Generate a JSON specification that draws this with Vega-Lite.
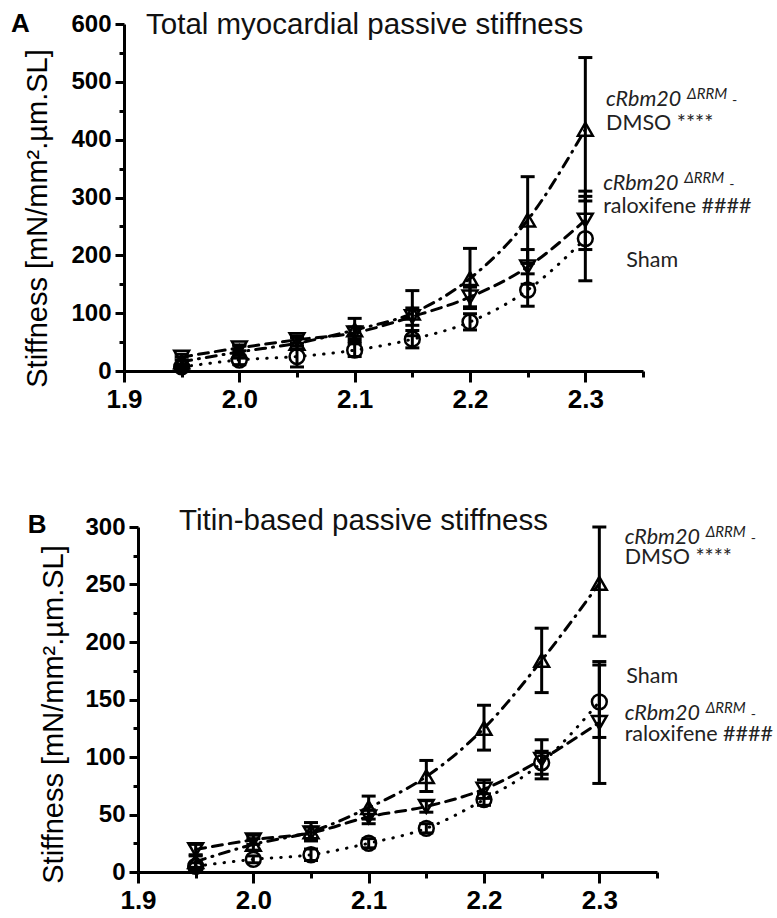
{
  "$schema": "https://vega.github.io/schema/vega-lite/v6.json",
  "background": "white",
  "padding": {"left": 10, "top": 9, "right": 5, "bottom": 5},
  "spacing": 93,
  "config": {
    "view": {"stroke": null},
    "font": "Liberation Sans",
    "axis": {
      "grid": false,
      "domainColor": "black",
      "domainWidth": 3,
      "tickColor": "black",
      "tickWidth": 3,
      "labelColor": "black",
      "labelFont": "Liberation Sans",
      "labelFontWeight": "bold",
      "labelOverlap": false,
      "labelFlush": false,
      "titleColor": "black",
      "titleFont": "Liberation Sans",
      "titleFontWeight": "normal"
    }
  },
  "datasets": {
    "A": [
      {"x": 1.95, "group": "DMSO", "mean": 16, "lo": 8, "hi": 24},
      {"x": 1.95, "group": "Ralox", "mean": 24, "lo": 19, "hi": 29},
      {"x": 1.95, "group": "Sham", "mean": 7, "lo": 2, "hi": 12},
      {"x": 2.0, "group": "DMSO", "mean": 33, "lo": 23, "hi": 43},
      {"x": 2.0, "group": "Ralox", "mean": 40, "lo": 35, "hi": 45},
      {"x": 2.0, "group": "Sham", "mean": 19, "lo": 11, "hi": 27},
      {"x": 2.05, "group": "DMSO", "mean": 48, "lo": 38, "hi": 58},
      {"x": 2.05, "group": "Ralox", "mean": 54, "lo": 48, "hi": 61},
      {"x": 2.05, "group": "Sham", "mean": 25, "lo": 7, "hi": 43},
      {"x": 2.1, "group": "DMSO", "mean": 71, "lo": 51, "hi": 91},
      {"x": 2.1, "group": "Ralox", "mean": 66, "lo": 56, "hi": 76},
      {"x": 2.1, "group": "Sham", "mean": 36, "lo": 25, "hi": 47},
      {"x": 2.15, "group": "DMSO", "mean": 100, "lo": 61, "hi": 139},
      {"x": 2.15, "group": "Ralox", "mean": 94, "lo": 79, "hi": 109},
      {"x": 2.15, "group": "Sham", "mean": 55, "lo": 40, "hi": 70},
      {"x": 2.2, "group": "DMSO", "mean": 160, "lo": 108, "hi": 212},
      {"x": 2.2, "group": "Ralox", "mean": 128, "lo": 111, "hi": 145},
      {"x": 2.2, "group": "Sham", "mean": 85, "lo": 71, "hi": 99},
      {"x": 2.25, "group": "DMSO", "mean": 261, "lo": 186, "hi": 336},
      {"x": 2.25, "group": "Ralox", "mean": 180, "lo": 150, "hi": 210},
      {"x": 2.25, "group": "Sham", "mean": 140, "lo": 112, "hi": 168},
      {"x": 2.3, "group": "DMSO", "mean": 418, "lo": 294, "hi": 542},
      {"x": 2.3, "group": "Ralox", "mean": 261, "lo": 210, "hi": 311},
      {"x": 2.3, "group": "Sham", "mean": 229, "lo": 156, "hi": 302}
    ],
    "B": [
      {"x": 1.95, "group": "DMSO", "mean": 9, "lo": 4, "hi": 14},
      {"x": 1.95, "group": "Ralox", "mean": 19.5, "lo": 15, "hi": 24},
      {"x": 1.95, "group": "Sham", "mean": 5, "lo": 2, "hi": 8},
      {"x": 2.0, "group": "DMSO", "mean": 24, "lo": 19, "hi": 29},
      {"x": 2.0, "group": "Ralox", "mean": 28, "lo": 24, "hi": 32},
      {"x": 2.0, "group": "Sham", "mean": 11, "lo": 8, "hi": 14},
      {"x": 2.05, "group": "DMSO", "mean": 35, "lo": 27, "hi": 43},
      {"x": 2.05, "group": "Ralox", "mean": 34, "lo": 29, "hi": 39},
      {"x": 2.05, "group": "Sham", "mean": 15, "lo": 10, "hi": 20},
      {"x": 2.1, "group": "DMSO", "mean": 56, "lo": 46, "hi": 66},
      {"x": 2.1, "group": "Ralox", "mean": 48, "lo": 42, "hi": 54},
      {"x": 2.1, "group": "Sham", "mean": 25, "lo": 21, "hi": 29},
      {"x": 2.15, "group": "DMSO", "mean": 83, "lo": 70, "hi": 97},
      {"x": 2.15, "group": "Ralox", "mean": 57, "lo": 52, "hi": 62},
      {"x": 2.15, "group": "Sham", "mean": 38, "lo": 34, "hi": 42},
      {"x": 2.2, "group": "DMSO", "mean": 125, "lo": 106, "hi": 145},
      {"x": 2.2, "group": "Ralox", "mean": 72, "lo": 64, "hi": 80},
      {"x": 2.2, "group": "Sham", "mean": 63, "lo": 58, "hi": 68},
      {"x": 2.25, "group": "DMSO", "mean": 184, "lo": 156, "hi": 212},
      {"x": 2.25, "group": "Ralox", "mean": 98, "lo": 81, "hi": 115},
      {"x": 2.25, "group": "Sham", "mean": 95, "lo": 85, "hi": 105},
      {"x": 2.3, "group": "DMSO", "mean": 251, "lo": 205, "hi": 300},
      {"x": 2.3, "group": "Ralox", "mean": 130, "lo": 77, "hi": 183},
      {"x": 2.3, "group": "Sham", "mean": 148, "lo": 117, "hi": 180}
    ],
    "italA": [
      {"x": 2.318, "y": 457.7, "name": "cRbm20", "sup": "ΔRRM", "tail": "-"},
      {"x": 2.3155, "y": 312.6, "name": "cRbm20", "sup": "ΔRRM", "tail": "-"}
    ],
    "plainA": [
      {"x": 2.318, "y": 417.4, "text": "DMSO ****"},
      {"x": 2.3155, "y": 272.4, "text": "raloxifene ####"},
      {"x": 2.3355, "y": 180, "text": "Sham"}
    ],
    "italB": [
      {"x": 2.322, "y": 284.8, "name": "cRbm20", "sup": "ΔRRM", "tail": "-"},
      {"x": 2.322, "y": 132.6, "name": "cRbm20", "sup": "ΔRRM", "tail": "-"}
    ],
    "plainB": [
      {"x": 2.322, "y": 267.4, "text": "DMSO ****"},
      {"x": 2.3234, "y": 164.5, "text": "Sham"},
      {"x": 2.322, "y": 113.7, "text": "raloxifene ####"}
    ],
    "headA": [
      {"x": 1.802, "y": 586, "letter": "A"}
    ],
    "titleA": [
      {"x": 1.9191, "y": 583, "title": "Total myocardial passive stiffness"}
    ],
    "headB": [
      {"x": 1.8043, "y": 295, "letter": "B"}
    ],
    "titleB": [
      {"x": 1.9356, "y": 297.8, "title": "Titin-based passive stiffness"}
    ]
  },
  "vconcat": [
    {
      "width": 519,
      "height": 347,
      "encoding": {
        "x": {
          "field": "x", "type": "quantitative",
          "scale": {"domain": [1.9, 2.35], "nice": false, "zero": false},
          "axis": {
            "title": null,
            "values": [1.9, 1.95, 2.0, 2.05, 2.1, 2.15, 2.2, 2.25, 2.3, 2.35],
            "labelExpr": "abs(datum.value*10 - round(datum.value*10)) < 0.001 && datum.value < 2.34 ? format(datum.value, '.1f') : ''",
            "tickSize": {"condition": {"test": "abs(datum.value*10 - round(datum.value*10)) < 0.001 && datum.value < 2.34", "value": 11}, "value": 6},
            "labelFontSize": 26,
            "labelPadding": 4
          }
        },
        "y": {
          "type": "quantitative",
          "scale": {"domain": [0, 600], "nice": false},
          "axis": {
            "title": "Stiffness [mN/mm².µm.SL]",
            "titleFontSize": 29,
            "titleY": 194,
            "titlePadding": 18,
            "values": [0, 50, 100, 150, 200, 250, 300, 350, 400, 450, 500, 550, 600],
            "labelExpr": "datum.value % 100 == 0 ? datum.label : ''",
            "tickSize": {"condition": {"test": "datum.value % 100 == 0", "value": 9}, "value": 5},
            "labelFontSize": 24,
            "labelPadding": 4
          }
        }
      },
      "layer": [
        {
          "data": {"name": "A"},
          "mark": {"type": "line", "color": "black", "strokeWidth": 3, "strokeCap": "round", "interpolate": "monotone"},
          "encoding": {
            "y": {"field": "mean"},
            "detail": {"field": "group"},
            "strokeDash": {"field": "group", "scale": {"domain": ["DMSO", "Ralox", "Sham"], "range": [[10, 7, 1, 7], [10, 7], [0.5, 9]]}, "legend": null}
          }
        },
        {
          "data": {"name": "A"},
          "mark": {"type": "rule", "color": "black", "strokeWidth": 3},
          "encoding": {"y": {"field": "lo"}, "y2": {"field": "hi"}}
        },
        {
          "data": {"name": "A"},
          "mark": {"type": "tick", "orient": "horizontal", "color": "black", "opacity": 1, "size": 14, "thickness": 3},
          "encoding": {"y": {"field": "lo"}}
        },
        {
          "data": {"name": "A"},
          "mark": {"type": "tick", "orient": "horizontal", "color": "black", "opacity": 1, "size": 14, "thickness": 3},
          "encoding": {"y": {"field": "hi"}}
        },
        {
          "data": {"name": "A"},
          "mark": {"type": "point", "filled": false, "color": "black", "strokeWidth": 2.5, "size": 220, "opacity": 1},
          "encoding": {
            "y": {"field": "mean"},
            "shape": {"field": "group", "scale": {"domain": ["DMSO", "Ralox", "Sham"], "range": ["triangle-up", "triangle-down", "circle"]}, "legend": null}
          }
        },
        {
          "data": {"name": "italA"},
          "mark": {"type": "text", "align": "left", "baseline": "alphabetic", "font": "Lato", "fontSize": 21.5, "fontStyle": "italic", "color": "#222"},
          "encoding": {"y": {"field": "y"}, "text": {"field": "name"}}
        },
        {
          "data": {"name": "italA"},
          "mark": {"type": "text", "align": "left", "baseline": "alphabetic", "font": "Lato", "fontSize": 15, "fontStyle": "italic", "color": "#222", "dx": 81, "dy": -7},
          "encoding": {"y": {"field": "y"}, "text": {"field": "sup"}}
        },
        {
          "data": {"name": "italA"},
          "mark": {"type": "text", "align": "left", "baseline": "alphabetic", "font": "Lato", "fontSize": 14, "color": "#222", "dx": 126, "dy": -1},
          "encoding": {"y": {"field": "y"}, "text": {"field": "tail"}}
        },
        {
          "data": {"name": "plainA"},
          "mark": {"type": "text", "align": "left", "baseline": "alphabetic", "font": "Lato", "fontSize": 21.5, "color": "#222"},
          "encoding": {"y": {"field": "y"}, "text": {"field": "text"}}
        },
        {
          "data": {"name": "headA"},
          "mark": {"type": "text", "align": "left", "baseline": "alphabetic", "fontSize": 26, "fontWeight": "bold", "color": "black"},
          "encoding": {"y": {"field": "y"}, "text": {"field": "letter"}}
        },
        {
          "data": {"name": "titleA"},
          "mark": {"type": "text", "align": "left", "baseline": "alphabetic", "fontSize": 29.5, "color": "#111"},
          "encoding": {"y": {"field": "y"}, "text": {"field": "title"}}
        }
      ]
    },
    {
      "width": 533,
      "height": 345,
      "encoding": {
        "x": {
          "field": "x", "type": "quantitative",
          "scale": {"domain": [1.887853, 2.35], "nice": false, "zero": false},
          "axis": {
            "title": null,
            "values": [1.9, 1.95, 2.0, 2.05, 2.1, 2.15, 2.2, 2.25, 2.3, 2.35],
            "labelExpr": "abs(datum.value*10 - round(datum.value*10)) < 0.001 && datum.value < 2.34 ? format(datum.value, '.1f') : ''",
            "tickSize": {"condition": {"test": "abs(datum.value*10 - round(datum.value*10)) < 0.001 && datum.value < 2.34", "value": 11}, "value": 6},
            "domainDash": [0, 14, 1000],
            "labelFontSize": 26,
            "labelPadding": 4
          }
        },
        "y": {
          "type": "quantitative",
          "scale": {"domain": [0, 300], "nice": false},
          "axis": {
            "title": "Stiffness [mN/mm².µm.SL]",
            "titleFontSize": 29,
            "titleY": 187,
            "titlePadding": 16,
            "offset": -14,
            "values": [0, 25, 50, 75, 100, 125, 150, 175, 200, 225, 250, 275, 300],
            "labelExpr": "datum.value % 50 == 0 ? datum.label : ''",
            "tickSize": {"condition": {"test": "datum.value % 50 == 0", "value": 9}, "value": 5},
            "labelFontSize": 24,
            "labelPadding": 4
          }
        }
      },
      "layer": [
        {
          "data": {"name": "B"},
          "mark": {"type": "line", "color": "black", "strokeWidth": 3, "strokeCap": "round", "interpolate": "monotone"},
          "encoding": {
            "y": {"field": "mean"},
            "detail": {"field": "group"},
            "strokeDash": {"field": "group", "scale": {"domain": ["DMSO", "Ralox", "Sham"], "range": [[10, 7, 1, 7], [10, 7], [0.5, 9]]}, "legend": null}
          }
        },
        {
          "data": {"name": "B"},
          "mark": {"type": "rule", "color": "black", "strokeWidth": 3},
          "encoding": {"y": {"field": "lo"}, "y2": {"field": "hi"}}
        },
        {
          "data": {"name": "B"},
          "mark": {"type": "tick", "orient": "horizontal", "color": "black", "opacity": 1, "size": 14, "thickness": 3},
          "encoding": {"y": {"field": "lo"}}
        },
        {
          "data": {"name": "B"},
          "mark": {"type": "tick", "orient": "horizontal", "color": "black", "opacity": 1, "size": 14, "thickness": 3},
          "encoding": {"y": {"field": "hi"}}
        },
        {
          "data": {"name": "B"},
          "mark": {"type": "point", "filled": false, "color": "black", "strokeWidth": 2.5, "size": 220, "opacity": 1},
          "encoding": {
            "y": {"field": "mean"},
            "shape": {"field": "group", "scale": {"domain": ["DMSO", "Ralox", "Sham"], "range": ["triangle-up", "triangle-down", "circle"]}, "legend": null}
          }
        },
        {
          "data": {"name": "italB"},
          "mark": {"type": "text", "align": "left", "baseline": "alphabetic", "font": "Lato", "fontSize": 21.5, "fontStyle": "italic", "color": "#222"},
          "encoding": {"y": {"field": "y"}, "text": {"field": "name"}}
        },
        {
          "data": {"name": "italB"},
          "mark": {"type": "text", "align": "left", "baseline": "alphabetic", "font": "Lato", "fontSize": 15, "fontStyle": "italic", "color": "#222", "dx": 81, "dy": -7},
          "encoding": {"y": {"field": "y"}, "text": {"field": "sup"}}
        },
        {
          "data": {"name": "italB"},
          "mark": {"type": "text", "align": "left", "baseline": "alphabetic", "font": "Lato", "fontSize": 14, "color": "#222", "dx": 126, "dy": -1},
          "encoding": {"y": {"field": "y"}, "text": {"field": "tail"}}
        },
        {
          "data": {"name": "plainB"},
          "mark": {"type": "text", "align": "left", "baseline": "alphabetic", "font": "Lato", "fontSize": 21.5, "color": "#222"},
          "encoding": {"y": {"field": "y"}, "text": {"field": "text"}}
        },
        {
          "data": {"name": "headB"},
          "mark": {"type": "text", "align": "left", "baseline": "alphabetic", "fontSize": 26, "fontWeight": "bold", "color": "black"},
          "encoding": {"y": {"field": "y"}, "text": {"field": "letter"}}
        },
        {
          "data": {"name": "titleB"},
          "mark": {"type": "text", "align": "left", "baseline": "alphabetic", "fontSize": 29.5, "color": "#111"},
          "encoding": {"y": {"field": "y"}, "text": {"field": "title"}}
        }
      ]
    }
  ]
}
